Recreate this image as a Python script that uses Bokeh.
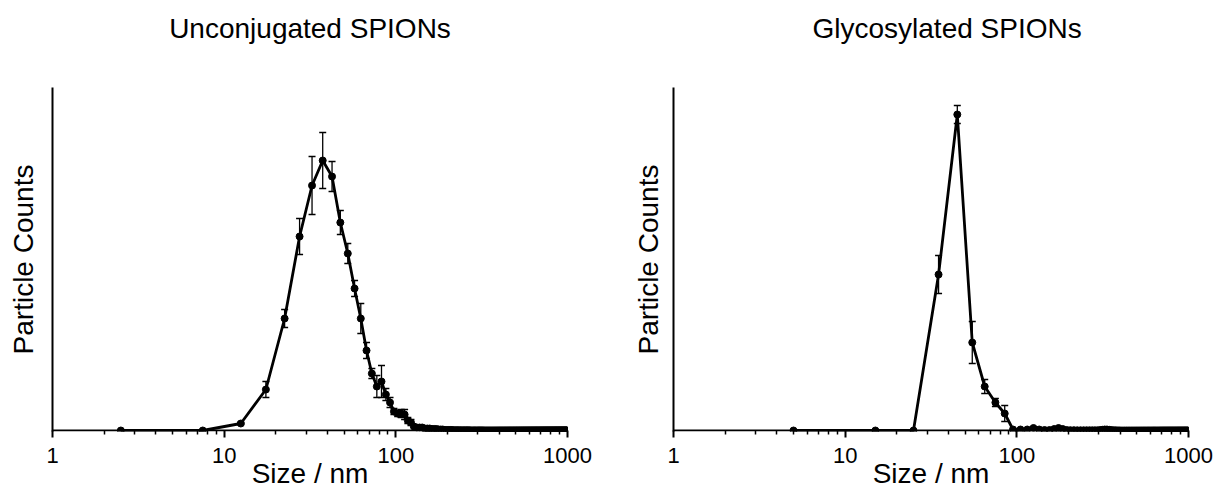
from bokeh.plotting import figure
from bokeh.models import (Range1d, FixedTicker, PrintfTickFormatter, Whisker, TeeHead,
                          ColumnDataSource, Span, Title)
from bokeh.layouts import row
from bokeh.embed import file_html
from bokeh.resources import INLINE

# ---------------- data ----------------
tick_values = [1, 10, 100, 1000]
minor_tick_values = [2, 3, 4, 5, 6, 7, 8, 9,
                     20, 30, 40, 50, 60, 70, 80, 90,
                     200, 300, 400, 500, 600, 700, 800, 900]

titles = ["Unconjugated SPIONs", "Glycosylated SPIONs"]
x_label = "Size / nm"
y_label = "Particle Counts"

# Unconjugated: 5 nm bins
sizes_a = [
    2.5, 7.5, 12.5, 17.5, 22.5, 27.5, 32.5, 37.5, 42.5, 47.5,
    52.5, 57.5, 62.5, 67.5, 72.5, 77.5, 82.5, 87.5, 92.5, 97.5,
    102.5, 107.5, 112.5, 117.5, 122.5, 127.5, 132.5, 137.5, 142.5, 147.5,
    152.5, 157.5, 162.5, 167.5, 172.5, 177.5, 182.5, 187.5, 192.5, 197.5,
    202.5, 207.5, 212.5, 217.5, 222.5, 227.5, 232.5, 237.5, 242.5, 247.5,
    252.5, 257.5, 262.5, 267.5, 272.5, 277.5, 282.5, 287.5, 292.5, 297.5,
    302.5, 307.5, 312.5, 317.5, 322.5, 327.5, 332.5, 337.5, 342.5, 347.5,
    352.5, 357.5, 362.5, 367.5, 372.5, 377.5, 382.5, 387.5, 392.5, 397.5,
    402.5, 407.5, 412.5, 417.5, 422.5, 427.5, 432.5, 437.5, 442.5, 447.5,
    452.5, 457.5, 462.5, 467.5, 472.5, 477.5, 482.5, 487.5, 492.5, 497.5,
    502.5, 507.5, 512.5, 517.5, 522.5, 527.5, 532.5, 537.5, 542.5, 547.5,
    552.5, 557.5, 562.5, 567.5, 572.5, 577.5, 582.5, 587.5, 592.5, 597.5,
    602.5, 607.5, 612.5, 617.5, 622.5, 627.5, 632.5, 637.5, 642.5, 647.5,
    652.5, 657.5, 662.5, 667.5, 672.5, 677.5, 682.5, 687.5, 692.5, 697.5,
    702.5, 707.5, 712.5, 717.5, 722.5, 727.5, 732.5, 737.5, 742.5, 747.5,
    752.5, 757.5, 762.5, 767.5, 772.5, 777.5, 782.5, 787.5, 792.5, 797.5,
    802.5, 807.5, 812.5, 817.5, 822.5, 827.5, 832.5, 837.5, 842.5, 847.5,
    852.5, 857.5, 862.5, 867.5, 872.5, 877.5, 882.5, 887.5, 892.5, 897.5,
    902.5, 907.5, 912.5, 917.5, 922.5, 927.5, 932.5, 937.5, 942.5, 947.5,
    952.5, 957.5, 962.5, 967.5, 972.5, 977.5, 982.5, 987.5, 992.5, 997.5,
]
counts_a = [
    0, 0, 7, 41, 112, 194, 245, 270, 254, 208,
    177, 142, 112, 80, 57, 44, 49, 36, 28, 19,
    17, 17, 16, 10, 8, 4, 3, 3, 3, 2,
    2, 2, 1.5, 1.5, 1.5, 1, 1, 1, 0.5, 0.5,
    0.5, 0.5, 0.5, 0.3, 0.3, 0.3, 0.3, 0.2, 0.2, 0.2,
    0.2, 0.2, 0.2, 0.2, 0.1, 0.1, 0.1, 0.1, 0.1, 0.1,
    0.1, 0.1, 0.1, 0.1, 0.1, 0, 0, 0, 0, 0,
    0, 0, 0, 0, 0, 0, 0, 0, 0, 0,
    0, 0, 0, 0, 0, 0, 0, 0, 0, 0,
    0, 0, 0, 0, 0, 0, 0, 0, 0, 0,
    0, 0, 0, 0, 0, 0, 0, 0, 0, 0,
    0, 0, 0, 0, 0, 0, 0, 0, 0, 0,
    0, 0, 0, 0, 0, 0, 0, 0, 0, 0,
    0, 0, 0, 0, 0, 0, 0, 0, 0, 0,
    0, 0, 0, 0, 0, 0, 0, 0, 0, 0,
    0, 0, 0, 0, 0, 0, 0, 0, 0, 0,
    0, 0, 0, 0, 0, 0, 0, 0, 0, 0,
    0, 0, 0, 0, 0, 0, 0, 0, 0, 0,
    0, 0, 0, 0, 0, 0, 0, 0, 0, 0,
    0, 0, 0, 0, 0, 0, 0, 0, 0, 0,
]
errors_a = [
    0, 0, 1, 8, 9, 18, 29, 28, 15, 12,
    10, 8, 15, 8, 5, 11, 16, 6, 5, 3,
    3, 4, 5, 3, 3, 1, 1, 1, 0, 0,
] + [0] * 170

# Glycosylated: 10 nm bins
sizes_b = [
    5, 15, 25, 35, 45, 55, 65, 75, 85, 95,
    105, 115, 125, 135, 145, 155, 165, 175, 185, 195,
    205, 215, 225, 235, 245, 255, 265, 275, 285, 295,
    305, 315, 325, 335, 345, 355, 365, 375, 385, 395,
    405, 415, 425, 435, 445, 455, 465, 475, 485, 495,
    505, 515, 525, 535, 545, 555, 565, 575, 585, 595,
    605, 615, 625, 635, 645, 655, 665, 675, 685, 695,
    705, 715, 725, 735, 745, 755, 765, 775, 785, 795,
    805, 815, 825, 835, 845, 855, 865, 875, 885, 895,
    905, 915, 925, 935, 945, 955, 965, 975, 985, 995,
]
counts_b = [
    0, 0, 0, 156, 316, 88, 44, 28, 17, 1,
    1, 1, 2.5, 1, 0.5, 0.5, 1.5, 2.5, 1.5, 0.5,
    0.3, 0.3, 0.2, 0.2, 0.2, 0.2, 0.2, 0.2, 0.2, 0.2,
    0.4, 0.7, 1, 1, 0.7, 0.4, 0.2, 0.2, 0.1, 0.1,
    0, 0, 0, 0, 0, 0, 0, 0, 0, 0,
    0, 0, 0, 0, 0, 0, 0, 0, 0, 0,
    0, 0, 0, 0, 0, 0, 0, 0, 0, 0,
    0, 0, 0, 0, 0, 0, 0, 0, 0, 0,
    0, 0, 0, 0, 0, 0, 0, 0, 0, 0,
    0, 0, 0, 0, 0, 0, 0, 0, 0, 0,
]
errors_b = [0, 0, 0, 19, 9, 21, 7, 4, 8, 0] + [0] * 90

FONT = "Liberation Sans"
Y_LOW = -1      # small pad below zero counts


def make_panel(title, sizes, counts, errors, width, border_left, border_right,
               title_align, title_offset, ylabel_standoff):
    p = figure(width=width, height=491, x_axis_type="log", title=None,
               x_range=Range1d(1, 1000), y_range=Range1d(Y_LOW, 343),
               output_backend="svg", toolbar_location=None,
               min_border_left=border_left, min_border_right=border_right,
               min_border_top=87, min_border_bottom=60,
               background_fill_color="white", border_fill_color="white")
    p.outline_line_color = None
    p.xgrid.visible = False
    p.ygrid.visible = False

    # spacer (closest to the frame) then the real title
    p.add_layout(Title(text=" ", text_font_size="2px", standoff=36), "above")
    p.add_layout(Title(text=title, align=title_align, offset=title_offset,
                       text_font=FONT, text_font_size="28px",
                       text_font_style="normal", text_color="black",
                       standoff=8), "above")

    xa = p.xaxis[0]
    xa.ticker = FixedTicker(ticks=tick_values, minor_ticks=minor_tick_values)
    xa.formatter = PrintfTickFormatter(format="%d")
    xa.axis_line_color = None
    xa.major_tick_line_width = 2
    xa.minor_tick_line_width = 1.5
    xa.major_tick_line_color = "black"
    xa.minor_tick_line_color = "black"
    xa.major_tick_in = 1
    xa.major_tick_out = 6
    xa.minor_tick_in = 1
    xa.minor_tick_out = 3
    xa.major_label_text_font = FONT
    xa.major_label_text_font_size = "22px"
    xa.major_label_text_color = "black"
    xa.major_label_standoff = 10
    xa.axis_label = x_label
    xa.axis_label_text_font = FONT
    xa.axis_label_text_font_size = "28px"
    xa.axis_label_text_font_style = "normal"
    xa.axis_label_text_color = "black"
    xa.axis_label_standoff = -8

    ya = p.yaxis[0]
    ya.ticker = FixedTicker(ticks=[])
    ya.major_label_text_font_size = "0px"
    ya.major_tick_out = 0
    ya.major_tick_in = 0
    ya.minor_tick_out = 0
    ya.minor_tick_in = 0
    ya.axis_line_width = 2
    ya.axis_line_color = "black"
    ya.axis_label = y_label
    ya.axis_label_text_font = FONT
    ya.axis_label_text_font_size = "28px"
    ya.axis_label_text_font_style = "normal"
    ya.axis_label_text_color = "black"
    ya.axis_label_standoff = ylabel_standoff

    # x axis line drawn at zero counts
    p.add_layout(Span(location=0, dimension="width", line_color="black",
                      line_width=2, level="underlay"))

    p.line(sizes, counts, line_width=2.8, line_color="black")
    p.scatter(sizes, counts, size=7, fill_color="black", line_color="black")

    ex = [s for s, e in zip(sizes, errors) if e > 0]
    ey = [c for c, e in zip(counts, errors) if e > 0]
    ee = [e for e in errors if e > 0]
    src = ColumnDataSource(dict(x=ex,
                                upper=[c + e for c, e in zip(ey, ee)],
                                lower=[c - e for c, e in zip(ey, ee)]))
    w = Whisker(source=src, base="x", upper="upper", lower="lower",
                dimension="height", line_color="black", line_width=1.3,
                upper_head=TeeHead(size=7, line_width=1.3, line_color="black"),
                lower_head=TeeHead(size=7, line_width=1.3, line_color="black"))
    p.add_layout(w)
    return p


p1 = make_panel(titles[0], sizes_a, counts_a, errors_a, 606, 52, 39, "center", 0, 14)
p2 = make_panel(titles[1], sizes_b, counts_b, errors_b, 607, 67, 25, "left", 139, 10)

layout = row(p1, p2)
open("out.html", "w").write(file_html(layout, INLINE))
